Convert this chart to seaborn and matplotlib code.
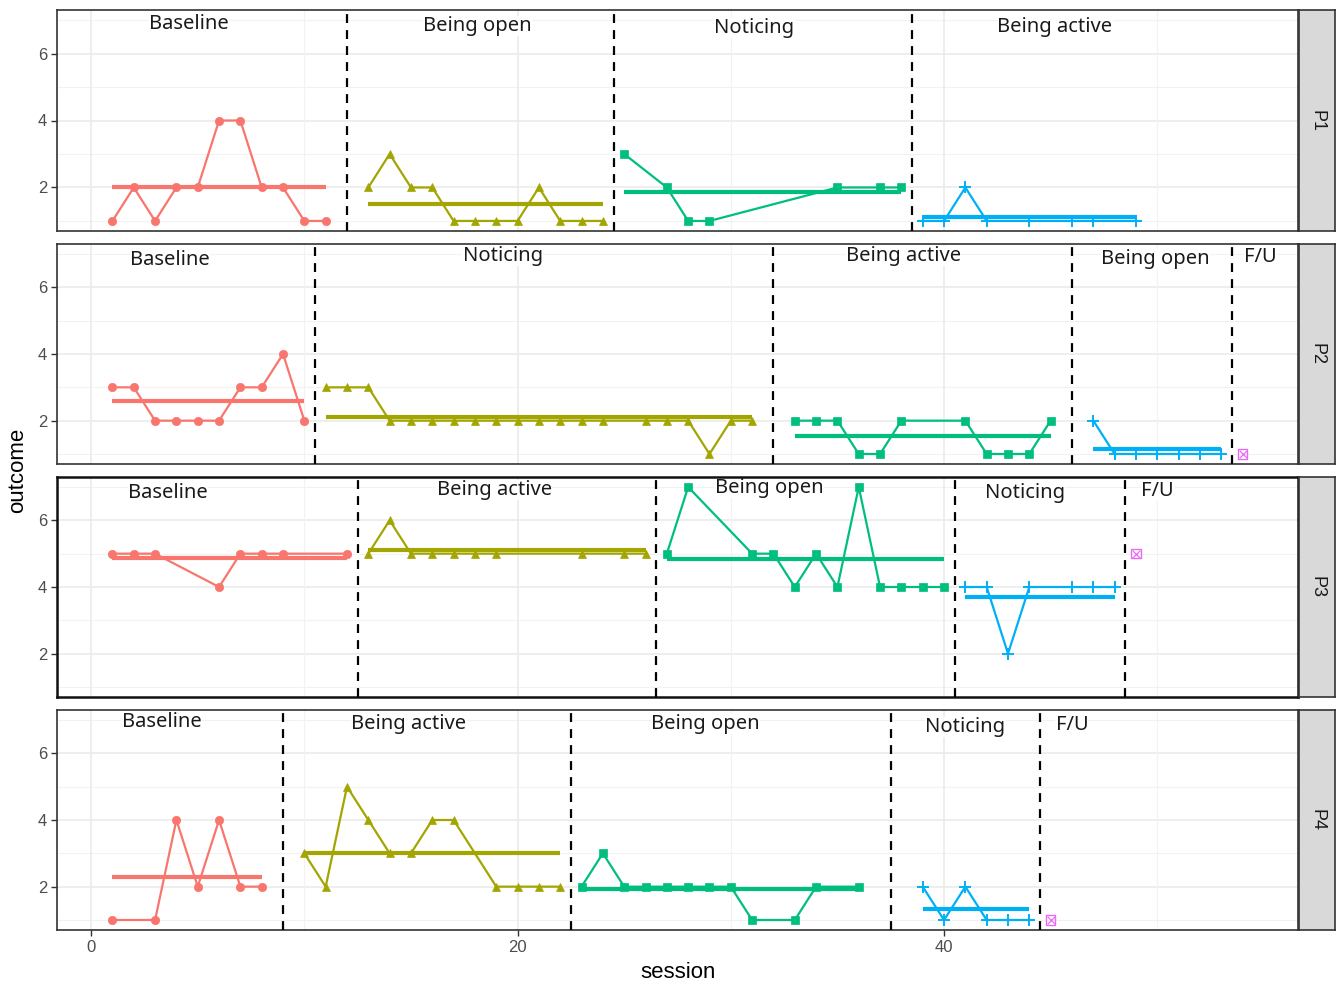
import numpy as np
import pandas as pd
import matplotlib
matplotlib.use('Agg')
import matplotlib.pyplot as plt
import seaborn as sns

# ---- data ---------------------------------------------------------------
participants = ['P1', 'P2', 'P3', 'P4']

p1_phases = ['Baseline', 'Being open', 'Noticing', 'Being active']
p1_sessions = [[1, 2, 3, 4, 5, 6, 7, 8, 9, 10, 11],
               [13, 14, 15, 16, 17, 18, 19, 20, 21, 22, 23, 24],
               [25, 27, 28, 29, 35, 37, 38],
               [39, 40, 41, 42, 44, 46, 47, 49]]
p1_values = [[1, 2, 1, 2, 2, 4, 4, 2, 2, 1, 1],
             [2, 3, 2, 2, 1, 1, 1, 1, 2, 1, 1, 1],
             [3, 2, 1, 1, 2, 2, 2],
             [1, 1, 2, 1, 1, 1, 1, 1]]
p1_cuts = [12, 24.5, 38.5]
p1_fu = []

p2_phases = ['Baseline', 'Noticing', 'Being active', 'Being open', 'F/U']
p2_sessions = [[1, 2, 3, 4, 5, 6, 7, 8, 9, 10],
               [11, 12, 13, 14, 15, 16, 17, 18, 19, 20, 21, 22, 23, 24,
                26, 27, 28, 29, 30, 31],
               [33, 34, 35, 36, 37, 38, 41, 42, 43, 44, 45],
               [47, 48, 49, 50, 51, 52, 53]]
p2_values = [[3, 3, 2, 2, 2, 2, 3, 3, 4, 2],
             [3, 3, 3, 2, 2, 2, 2, 2, 2, 2, 2, 2, 2, 2, 2, 2, 2, 1, 2, 2],
             [2, 2, 2, 1, 1, 2, 2, 1, 1, 1, 2],
             [2, 1, 1, 1, 1, 1, 1]]
p2_cuts = [10.5, 32, 46, 53.5]
p2_fu = [54, 1]

p3_phases = ['Baseline', 'Being active', 'Being open', 'Noticing', 'F/U']
p3_sessions = [[1, 2, 3, 6, 7, 8, 9, 12],
               [13, 14, 15, 16, 17, 18, 19, 23, 25, 26],
               [27, 28, 31, 32, 33, 34, 35, 36, 37, 38, 39, 40],
               [41, 42, 43, 44, 46, 47, 48]]
p3_values = [[5, 5, 5, 4, 5, 5, 5, 5],
             [5, 6, 5, 5, 5, 5, 5, 5, 5, 5],
             [5, 7, 5, 5, 4, 5, 4, 7, 4, 4, 4, 4],
             [4, 4, 2, 4, 4, 4, 4]]
p3_cuts = [12.5, 26.5, 40.5, 48.5]
p3_fu = [49, 5]

p4_phases = ['Baseline', 'Being active', 'Being open', 'Noticing', 'F/U']
p4_sessions = [[1, 3, 4, 5, 6, 7, 8],
               [10, 11, 12, 13, 14, 15, 16, 17, 19, 20, 21, 22],
               [23, 24, 25, 26, 27, 28, 29, 30, 31, 33, 34, 36],
               [39, 40, 41, 42, 43, 44]]
p4_values = [[1, 1, 4, 2, 4, 2, 2],
             [3, 2, 5, 4, 3, 3, 4, 4, 2, 2, 2, 2],
             [2, 3, 2, 2, 2, 2, 2, 2, 1, 1, 2, 2],
             [2, 1, 2, 1, 1, 1]]
p4_cuts = [9, 22.5, 37.5, 44.5]
p4_fu = [45, 1]

# phase label anchor (session, outcome) as placed in the figure
p1_label_x = [4.6, 18.1, 31.1, 45.2]
p1_label_y = [6.88, 6.82, 6.76, 6.79]
p2_label_x = [3.7, 19.3, 38.1, 49.9, 54.85]
p2_label_y = [6.82, 6.94, 6.94, 6.85, 6.91]
p3_label_x = [3.6, 18.9, 31.8, 43.8, 50.0]
p3_label_y = [6.82, 6.91, 6.97, 6.82, 6.88]
p4_label_x = [3.3, 14.9, 28.8, 41.0, 46.0]
p4_label_y = [6.94, 6.88, 6.88, 6.79, 6.85]

all_phases = [p1_phases, p2_phases, p3_phases, p4_phases]
all_sessions = [p1_sessions, p2_sessions, p3_sessions, p4_sessions]
all_values = [p1_values, p2_values, p3_values, p4_values]
all_cuts = [p1_cuts, p2_cuts, p3_cuts, p4_cuts]
all_fu = [p1_fu, p2_fu, p3_fu, p4_fu]
all_lx = [p1_label_x, p2_label_x, p3_label_x, p4_label_x]
all_ly = [p1_label_y, p2_label_y, p3_label_y, p4_label_y]

rows = []
for p, sess, vals in zip(participants, all_sessions, all_values):
    for k, (ss, vv) in enumerate(zip(sess, vals)):
        for s, v in zip(ss, vv):
            rows.append((p, k, s, v))
df = pd.DataFrame(rows, columns=['participant', 'phase', 'session', 'outcome'])

# ---- style ----------------------------------------------------------------
sns.set_theme(style='white')
plt.rcParams['font.family'] = ['Liberation Sans', 'DejaVu Sans']
palette = ['#F8766D', '#A3A500', '#00BF7D', '#00B0F6', '#E76BF3']
markers = ['o', '^', 's', '+']

fig = plt.figure(figsize=(13.38, 9.84), dpi=100)
W, H = 1338, 984
panel_px = [(10, 231), (244, 464), (477, 697), (710, 930)]
left_px, right_px = 57, 1298

for i, p in enumerate(participants):
    top, bot = panel_px[i]
    ax = fig.add_axes([left_px / W, 1 - bot / H, (right_px - left_px) / W, (bot - top) / H])
    ax.set_xlim(-1.6, 56.6)
    ax.set_ylim(0.7, 7.3)

    # ggplot-like grid
    for y in [1, 3, 5, 7]:
        ax.axhline(y, color='#F2F2F2', lw=0.8, zorder=0)
    for y in [2, 4, 6]:
        ax.axhline(y, color='#EBEBEB', lw=1.2, zorder=0)
    for x in [10, 30, 50]:
        ax.axvline(x, color='#F2F2F2', lw=0.8, zorder=0)
    for x in [0, 20, 40]:
        ax.axvline(x, color='#EBEBEB', lw=1.2, zorder=0)

    sub_p = df[df.participant == p]
    for k in sorted(sub_p.phase.unique()):
        sub = sub_p[sub_p.phase == k]
        c = palette[k]
        sns.lineplot(data=sub, x='session', y='outcome', ax=ax, color=c,
                     estimator=None, sort=True, lw=1.6, marker=markers[k],
                     markersize=8 if markers[k] == '+' else 6,
                     markeredgecolor=c, markeredgewidth=1.4 if markers[k] == '+' else 0.5,
                     zorder=3)
        m = sub.outcome.mean()
        ax.plot([sub.session.min(), sub.session.max()], [m, m], color=c,
                lw=3.0, solid_capstyle='butt', zorder=2)

    fu = all_fu[i]
    if fu:
        ax.scatter([fu[0]], [fu[1]], marker='s', s=48, facecolor='none',
                   edgecolor=palette[4], linewidth=1.0, zorder=4)
        ax.scatter([fu[0]], [fu[1]], marker='x', s=30, color=palette[4],
                   linewidth=0.9, zorder=4)

    for c in all_cuts[i]:
        ax.axvline(c, color='black', lw=1.6, ls=(0, (4, 3.2)), zorder=3)

    for name, lx, ly in zip(all_phases[i], all_lx[i], all_ly[i]):
        ax.text(lx, ly, name, ha='center', va='center', fontsize=14.5,
                family=['Noto Sans', 'DejaVu Sans'], color='#1a1a1a',
                bbox=dict(fc='white', ec='none', pad=0.2), zorder=2.4)

    ax.set_yticks([2, 4, 6])
    ax.set_yticklabels(['2', '4', '6'], fontsize=12, color='#4D4D4D')
    ax.set_xticks([0, 20, 40])
    ax.tick_params(axis='y', length=4, width=1, color='#333333', left=True, pad=3)
    if i == 3:
        ax.set_xticklabels(['0', '20', '40'], fontsize=12, color='#4D4D4D')
        ax.tick_params(axis='x', length=4, width=1, color='#333333', bottom=True, pad=3)
    else:
        ax.set_xticklabels([])
        ax.tick_params(axis='x', length=0)
    ax.set_xlabel('')
    ax.set_ylabel('')
    for sp in ax.spines.values():
        if p == 'P3':
            sp.set_color('#111111')
            sp.set_linewidth(1.8)
        else:
            sp.set_color('#333333')
            sp.set_linewidth(1.2)

    # facet strip on the right
    sax = fig.add_axes([(right_px + 1) / W, 1 - bot / H, 36 / W, (bot - top) / H])
    sax.set_facecolor('#D9D9D9')
    sax.set_xticks([])
    sax.set_yticks([])
    for sp in sax.spines.values():
        sp.set_color('#333333')
        sp.set_linewidth(1.2)
    sax.text(0.5, 0.5, p, rotation=270, ha='center', va='center',
             fontsize=13, color='#1A1A1A', transform=sax.transAxes)

fig.text(18 / W, 1 - 470 / H, 'outcome', rotation=90, ha='center', va='center',
         fontsize=16, color='black')
fig.text(678 / W, 1 - 973 / H, 'session', ha='center', va='center',
         fontsize=16, color='black')

fig.savefig('out.png', dpi=100)
